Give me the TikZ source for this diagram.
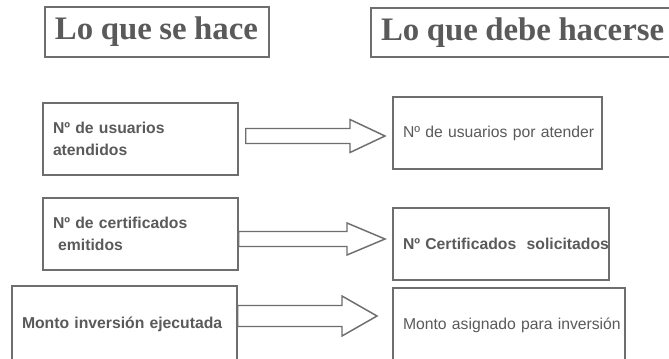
\documentclass[tikz,border=0pt]{standalone}
\usepackage{fontspec}
\usepackage{tikz}
\usetikzlibrary{calc}
\setmainfont{Liberation Sans}
\newfontfamily\titlefont{Liberation Serif}
\definecolor{linegray}{HTML}{6E6E6E}
\definecolor{textgray}{HTML}{5A5A5A}
\newcommand{\tightsp}{\spaceskip=0.23em\relax}
\tikzstyle{titlebag} = [draw=linegray, line width=1.3pt, text=textgray, align=left, inner xsep=7.5pt, inner ysep=0pt, font=\titlefont\bfseries\fontsize{24.6}{29}\selectfont]
\tikzstyle{bag} = [draw=linegray, line width=1.1pt, text=textgray, align=left, inner xsep=7.5pt, inner ysep=0pt, font=\fontsize{11.8}{17}\selectfont]
\tikzstyle{boldbag} = [bag, font=\bfseries\fontsize{11.8}{17}\selectfont]
\tikzstyle{arrowline} = [draw=linegray, line width=1.1pt, fill=white, line join=miter]
% block arrow: from node, tip, gap, shaft half, head half, head length
\newcommand{\blockarrow}[6]{%
  \draw[arrowline] let \p1=(#1.east), \p2=(#2) in
    ({\x1+#3},{\y2+#4}) -- ({\x2-#6},{\y2+#4}) -- ({\x2-#6},{\y2+#5}) -- (\p2)
    -- ({\x2-#6},{\y2-#5}) -- ({\x2-#6},{\y2-#4}) -- ({\x1+#3},{\y2-#4}) -- cycle;}

\begin{document}
\begin{tikzpicture}[x=0.75pt, y=-0.75pt]
	  \fill[white] (0,0) rectangle (669,358);
	  \useasboundingbox (0,0) rectangle (669,358);

	  \node (h) at (157,32) [titlebag, text width=153pt, minimum height=37.5pt] {\tightsp\mbox{Lo que se hace}};
	  \node (k) at (523,32.5) [titlebag, text width=213pt, minimum height=36.75pt] {\tightsp\mbox{Lo que debe hacerse}};

	  \node (a) at (140.5,139) [boldbag, text width=131.25pt, minimum height=54pt] {Nº de usuarios\\atendidos};
	  \node (b) at (140.5,234) [boldbag, text width=131.25pt, minimum height=54pt] {Nº de certificados\\\ emitidos};
	  \node (c) at (124.5,324) [boldbag, text width=153.75pt, minimum height=57pt] {Monto inversión ejecutada};

	  \node (d) at (497.5,133) [bag, text width=141.75pt, minimum height=54pt] {\mbox{Nº de usuarios por atender}};
	  \node (e) at (501,244) [boldbag, text width=147pt, minimum height=54pt] {\mbox{Nº Certificados\ \ solicitados}};
	  \node (f) at (509,325) [bag, text width=159pt, minimum height=55.5pt] {\mbox{Monto asignado para inversión}};

	  \coordinate (t1) at (385,136);
	  \coordinate (t2) at (385,239);
	  \coordinate (t3) at (377,316);

	  \blockarrow{a}{t1}{5.25pt}{5.625pt}{12.375pt}{26.25pt}
	  \blockarrow{b}{t2}{0pt}{5.625pt}{12pt}{28.5pt}
	  \blockarrow{c}{t3}{0pt}{7.875pt}{15pt}{26.25pt}
	\end{tikzpicture}
\end{document}
